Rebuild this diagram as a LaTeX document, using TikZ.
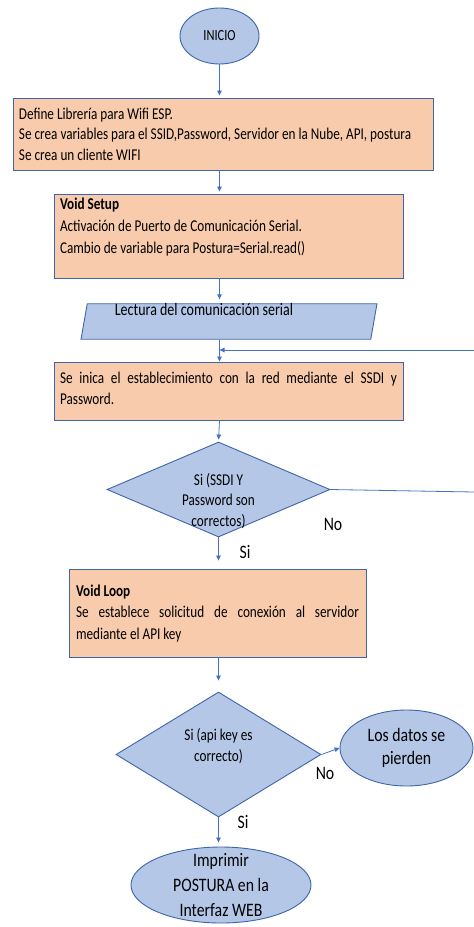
\documentclass[tikz,border=0pt]{standalone}
\usepackage{fontspec}
\setmainfont{Carlito}[FakeStretch=0.8]
\newfontfamily\bigf{Carlito}[FakeStretch=0.83]
\usetikzlibrary{shapes.geometric,arrows.meta,calc}
\definecolor{obox}{HTML}{F8CBAD}
\definecolor{bfill}{HTML}{B4C7E7}
\definecolor{bord}{HTML}{3F65A8}
\definecolor{arr}{HTML}{4472C4}
\newcommand\bx[4]{\begin{minipage}[c][#1][t]{#2}\fontsize{16.5}{#3}\selectfont\strut #4\end{minipage}}
\tikzset{
  boxst/.style={draw=bord, fill=obox, line width=0.9pt, rectangle},
  blueshape/.style={draw=bord, fill=bfill, line width=0.9pt},
  conn/.style={draw=arr, line width=0.8pt, -{Triangle[length=5pt,width=4.5pt]}},
  plainln/.style={draw=arr, line width=0.8pt},
  lab/.style={font=\bigf\fontsize{19}{23}\selectfont, inner sep=0pt},
  dtext/.style={align=center, font=\fontsize{16.5}{20.5}\selectfont, inner sep=-22pt},
}
\begin{document}
\begin{tikzpicture}[x=1pt,y=-1pt]
\useasboundingbox (0,0) rectangle (474,927);
\coordinate (axis) at (219.5,0);
\coordinate (back) at (474,350);
\coordinate (noR) at (474,492);

\node[blueshape, ellipse, minimum width=79pt, minimum height=56pt, inner sep=-15pt,
      font=\fontsize{15.5}{18}\selectfont] (inicio) at (219.5,36) {INICIO};

\node[boxst, inner xsep=6pt, inner ysep=7pt] (box1) at (223,134)
  {\bx{58pt}{408pt}{20.5pt}{Define Librería para Wifi ESP.\\Se crea variables para el SSID,Password, Servidor en la Nube, API, postura\\Se crea un cliente WIFI}};

\node[boxst, inner xsep=6pt, inner ysep=0pt] (box2) at (228.5,236)
  {\bx{84pt}{337pt}{22pt}{\textbf{Void Setup}\\Activación de Puerto de Comunicación Serial.\\Cambio de variable para Postura=Serial.read()}};

\node[blueshape, trapezium, trapezium left angle=80, trapezium right angle=100,
      trapezium stretches body, minimum width=296pt, minimum height=33pt, inner sep=0pt,
      align=center, font=\fontsize{17.5}{21}\selectfont] (par) at (229,321.5)
  {Lectura del comunicación serial\rule{50pt}{0pt}\\[-4pt]\strut};

\node[boxst, inner xsep=6pt, inner ysep=7pt] (box3) at (228.5,391)
  {\bx{44pt}{337pt}{21pt}{Se inica el establecimiento con la red mediante el SSDI y\linebreak Password.}};

\node[blueshape, diamond, minimum width=223pt, minimum height=95pt, dtext] (d1) at (218.5,489.5)
  {\strut\\Si (SSDI Y\\Password son\\correctos)};

\node[boxst, inner xsep=7pt, inner ysep=12pt] (box4) at (217.5,613)
  {\bx{64pt}{283pt}{21.5pt}{\textbf{Void Loop}\\Se establece solicitud de conexión al servidor\linebreak mediante el API key}};

\node[blueshape, diamond, minimum width=205pt, minimum height=125pt, dtext] (d2) at (218.5,754.5)
  {Si (api key es\\correcto)\\[-8pt]\strut};

\node[blueshape, ellipse, minimum width=133pt, minimum height=76pt, inner sep=-15pt,
      align=center, font=\bigf\fontsize{19}{23}\selectfont] (e2) at (406.5,748)
  {Los datos se\\pierden};

\node[blueshape, ellipse, minimum width=180pt, minimum height=76pt, inner sep=-15pt,
      align=center, font=\bigf\fontsize{19}{25}\selectfont] (e3) at (221,885)
  {Imprimir\\POSTURA en la\\Interfaz WEB};

\node[lab] (no1) at (333,524) {No};
\node[lab] (si1) at (245,552) {Si};
\node[lab] (no2) at (325,773) {No};
\node[lab] (si2) at (243,822) {Si};

\draw[conn, shorten >=2pt] (inicio.south) -- (inicio.south |- box1.north);
\draw[conn, shorten >=2pt] (box1.south -| axis) -- (box2.north -| axis);
\draw[conn, shorten >=4pt] (box2.south -| axis) -- (par.north -| axis);
\draw[conn] (par.south -| axis) -- (box3.north -| axis);
\draw[conn] (back) -- (back -| axis);
\draw[conn, shorten >=2pt] (box3.south -| axis) -- (d1.north);
\draw[plainln] (d1.east) -- (noR);
\draw[conn, shorten >=8pt] (d1.south) -- (box4.north -| d1.south);
\draw[conn, shorten >=11pt] (box4.south -| d2.north) -- (d2.north);
\draw[conn] (d2.east) -- (e2.west);
\draw[conn, shorten >=4pt] (d2.south) -- (e3.north -| d2.south);
\end{tikzpicture}
\end{document}
